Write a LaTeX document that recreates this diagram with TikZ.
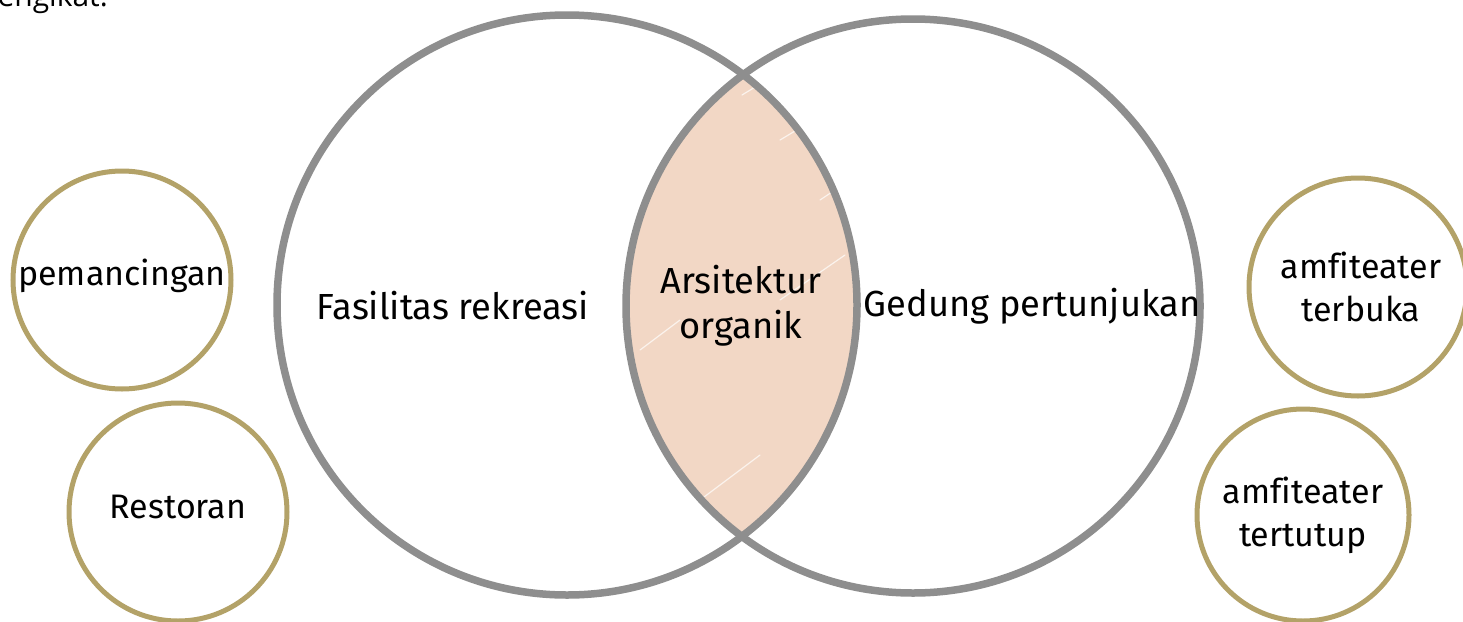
\documentclass[tikz,border=0pt]{standalone}
\usepackage{fontspec}
\setmainfont[Ligatures=NoCommon]{Fira Sans}
\newfontfamily\bodyfont{Open Sans}
\definecolor{ringgray}{HTML}{8E8E8E}
\definecolor{gold}{HTML}{B3A268}
\definecolor{lensfill}{HTML}{F2D7C5}
\tikzset{
  bigring/.style={circle, draw=ringgray, line width=7.5pt, inner sep=0pt},
  smallring/.style={circle, draw=gold, line width=5pt, inner sep=0pt, minimum size=218pt,
    align=center, font=\fontsize{34}{43}\selectfont},
  label/.style={align=center, inner sep=0pt, font=\fontsize{36.3}{45}\selectfont},
}
\begin{document}
\begin{tikzpicture}[x=1pt,y=-1pt]
  \useasboundingbox (0,0) rectangle (1463,621);
  \clip (0,0) rectangle (1463,621);

  % running text cut off at the top edge
  \node[anchor=base east, inner sep=0pt, font=\bodyfont\fontsize{30}{36}\selectfont] (cut) at (108,6) {mengikat.};

  % shared region of the two sets
  \begin{scope}
    \clip (567,305) circle[radius=290];
    \fill[lensfill] (913,306) circle[radius=287];
  \end{scope}
  \begin{scope}[white, opacity=0.7, line width=1.2pt, line cap=round]
    \clip (567,305) circle[radius=290];
    \clip (913,306) circle[radius=287];
    \draw (742,95) -- (775,75);
    \draw (780,140) -- (800,128);
    \draw (820,200) -- (835,190);
    \draw (700,500) -- (760,455);
    \draw (640,350) -- (680,320);
    \draw (780,300) -- (845,255);
  \end{scope}

  % the two sets
  \node[bigring, minimum size=580pt] (rec) at (567,305) {};
  \node[bigring, minimum size=574pt] (perf) at (913,306) {};

  \node[label] (recl) at (453,306) {Fasilitas rekreasi};
  \node[label] (perfl) at (1032,306) {Gedung pertunjukan};
  \node[label] (org) at (741,306) {Arsitektur\\organik};

  % examples on either side
  \node[smallring] (fish) at (122,280) {\raisebox{15pt}{pemancingan}};
  \node[smallring] (resto) at (178,512) {\raisebox{11pt}{Restoran}};
  \node[smallring] (open) at (1358,287) {\hspace*{6pt}amfiteater\\\hspace*{6pt}terbuka};
  \node[smallring, minimum size=212pt] (closed) at (1303,515) {amfiteater\\tertutup};
\end{tikzpicture}
\end{document}
